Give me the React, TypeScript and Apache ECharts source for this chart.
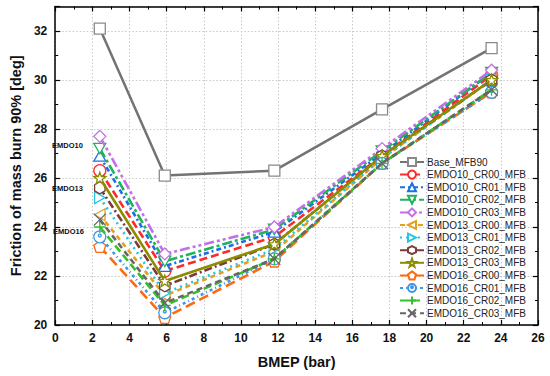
import React, { useEffect, useRef } from "react";
import * as echarts from "echarts";

const bmep = [2.4, 5.9, 11.8, 17.6, 23.5];
const xTicks = [0, 2, 4, 6, 8, 10, 12, 14, 16, 18, 20, 22, 24, 26];
const yTicks = [20, 22, 24, 26, 28, 30, 32];

const seriesNames = [
  "Base_MFB90",
  "EMDO10_CR00_MFB",
  "EMDO10_CR01_MFB",
  "EMDO10_CR02_MFB",
  "EMDO10_CR03_MFB",
  "EMDO13_CR00_MFB",
  "EMDO13_CR01_MFB",
  "EMDO13_CR02_MFB",
  "EMDO13_CR03_MFB",
  "EMDO16_CR00_MFB",
  "EMDO16_CR01_MFB",
  "EMDO16_CR02_MFB",
  "EMDO16_CR03_MFB",
];

const base = [32.1, 26.1, 26.3, 28.8, 31.3];
const e10cr00 = [26.3, 22.2, 23.6, 26.9, 30.2];
const e10cr01 = [26.9, 22.4, 23.8, 27.0, 30.3];
const e10cr02 = [27.2, 22.6, 23.9, 27.1, 30.3];
const e10cr03 = [27.7, 22.9, 24.0, 27.2, 30.4];
const e13cr00 = [24.5, 21.2, 23.0, 26.8, 30.0];
const e13cr01 = [25.2, 21.3, 23.1, 26.8, 30.0];
const e13cr02 = [25.6, 21.6, 23.3, 26.9, 30.0];
const e13cr03 = [26.0, 21.8, 23.3, 26.9, 30.0];
const e16cr00 = [23.2, 20.3, 22.6, 26.6, 29.5];
const e16cr01 = [23.6, 20.5, 22.7, 26.6, 29.5];
const e16cr02 = [24.0, 20.8, 22.7, 26.6, 29.6];
const e16cr03 = [24.3, 20.9, 22.7, 26.6, 29.6];

const groupLabels = ["EMDO10", "EMDO13", "EMDO16"];

const values = [
  base, e10cr00, e10cr01, e10cr02, e10cr03,
  e13cr00, e13cr01, e13cr02, e13cr03,
  e16cr00, e16cr01, e16cr02, e16cr03,
];

const colors = [
  "#737373", "#ff2a2a", "#1a6fe8", "#1fb35a", "#c46ee8",
  "#e0a020", "#22c6e0", "#7a3b3b", "#8c8c00",
  "#ff6a10", "#3c96e6", "#36c02a", "#666666",
];

const SYM = {
  square: "rect",
  circle: "circle",
  triUp: "path://M50,0 L100,87 L0,87 Z",
  triDown: "path://M0,0 L100,0 L50,87 Z",
  diamond: "path://M50,0 L100,50 L50,100 L0,50 Z",
  triLeft: "path://M0,50 L87,0 L87,100 Z",
  triRight: "path://M87,50 L0,0 L0,100 Z",
  hexagon: "path://M50,0 L93.3,25 L93.3,75 L50,100 L6.7,75 L6.7,25 Z",
  star: "path://M50,0 L61.8,33.8 L97.6,34.5 L69,56.2 L79.4,90.5 L50,70 L20.6,90.5 L31,56.2 L2.4,34.5 L38.2,33.8 Z",
  pentagon: "path://M50,0 L97.6,34.5 L79.4,90.5 L20.6,90.5 L2.4,34.5 Z",
  circDot: "path://M0,50 A50,50 0 1,1 100,50 A50,50 0 1,1 0,50 Z M38,40 A12,12 0 1,1 62,40 A12,12 0 1,1 38,40 Z",
  plus: "path://M50,0 L50,100 M0,50 L100,50",
  cross: "path://M0,0 L100,100 M100,0 L0,100",
};

const symbols = [
  SYM.square, SYM.circle, SYM.triUp, SYM.triDown, SYM.diamond,
  SYM.triLeft, SYM.triRight, SYM.hexagon, SYM.star,
  SYM.pentagon, SYM.circDot, SYM.plus, SYM.cross,
];

const dashes: any[] = [
  "solid",
  [8, 4],
  [5, 3, 2, 3],
  [10, 3, 3, 3],
  [10, 3, 3, 3, 3, 3],
  [5, 4],
  [2, 4],
  [8, 3, 2, 3],
  "solid",
  [10, 5],
  [3, 3, 1, 3],
  [8, 4],
  [6, 4],
];

const FONT = "'Liberation Sans', Arial, Helvetica, sans-serif";

export default function App() {
  const ref = useRef<HTMLDivElement>(null);

  useEffect(() => {
    if (!ref.current) return;
    const chart = echarts.init(ref.current, undefined, { renderer: "svg" });

    const series = seriesNames.map((name, i) => ({
      name,
      type: "line",
      xAxisIndex: 0,
      yAxisIndex: 0,
      data: bmep.map((x, j) => [x, values[i][j]]),
      symbol: symbols[i],
      symbolSize: i === 0 ? 11 : 12,
      symbolKeepAspect: true,
      lineStyle: { color: colors[i], width: i === 0 ? 2.5 : 2.6, type: dashes[i] },
      itemStyle: {
        color: i === 11 || i === 12 ? "rgba(255,255,255,0)" : "#ffffff",
        borderColor: i === 0 ? "#8a8a8a" : colors[i],
        borderWidth: 1.3,
      },
      emphasis: { disabled: true },
      z: 2 + i,
    }));

    const axisCommon = {
      type: "value",
      axisLine: { show: true, onZero: false, lineStyle: { color: "#000", width: 1.5 } },
      axisTick: { show: true, inside: true, length: 5, lineStyle: { color: "#000", width: 1.2 } },
      minorTick: { show: true, splitNumber: 2, length: 3, lineStyle: { color: "#000", width: 1 } },
      minorSplitLine: { show: false },
    };

    chart.setOption({
      animation: false,
      backgroundColor: "#ffffff",
      textStyle: { fontFamily: FONT },
      grid: { left: 45, right: 12, top: 6.5, bottom: 51, containLabel: false },
      xAxis: [
        {
          ...axisCommon,
          position: "bottom",
          min: xTicks[0],
          max: xTicks[xTicks.length - 1],
          interval: 2,
          name: "BMEP (bar)",
          nameLocation: "middle",
          nameGap: 29,
          nameTextStyle: { fontSize: 14.5, fontWeight: "bold", color: "#111", fontFamily: FONT },
          axisLabel: { fontSize: 12, fontWeight: "bold", color: "#111", margin: 7, fontFamily: FONT },
          splitLine: { show: true, lineStyle: { color: "#c8c8c8", type: [1.5, 2], width: 1 } },
        },
        {
          ...axisCommon,
          position: "top",
          min: xTicks[0],
          max: xTicks[xTicks.length - 1],
          interval: 2,
          axisLabel: { show: false },
          splitLine: { show: false },
        },
      ],
      yAxis: [
        {
          ...axisCommon,
          position: "left",
          min: yTicks[0],
          max: 33,
          interval: 2,
          name: "Friction of mass burn 90% [deg]",
          nameLocation: "middle",
          nameGap: 24,
          nameTextStyle: { fontSize: 14.5, fontWeight: "bold", color: "#111", fontFamily: FONT },
          axisLabel: { fontSize: 12, fontWeight: "bold", color: "#111", margin: 8, showMaxLabel: false, fontFamily: FONT },
          splitLine: { show: true, lineStyle: { color: "#c8c8c8", type: [1.5, 2], width: 1 } },
        },
        {
          ...axisCommon,
          position: "right",
          min: yTicks[0],
          max: 33,
          interval: 2,
          axisLabel: { show: false },
          splitLine: { show: false },
        },
      ],
      legend: {
        orient: "vertical",
        left: 399,
        top: 157,
        itemWidth: 24,
        itemHeight: 10,
        itemGap: 2.6,
        padding: 0,
        selectedMode: false,
        textStyle: { fontSize: 10, color: "#222", fontFamily: FONT, padding: [0, 0, 0, -2] },
        data: seriesNames,
      },
      graphic: [
        { type: "text", left: 52, top: 141, style: { text: groupLabels[0], font: `bold 7.5px ${FONT}`, fill: "#111" } },
        { type: "text", left: 52, top: 184, style: { text: groupLabels[1], font: `bold 7.5px ${FONT}`, fill: "#111" } },
        { type: "text", left: 53, top: 227, style: { text: groupLabels[2], font: `bold 7.5px ${FONT}`, fill: "#111" } },
      ],
      series,
    });

    return () => chart.dispose();
  }, []);

  return <div ref={ref} style={{ width: 550, height: 376, position: "absolute", left: 0, top: 0 }} />;
}
